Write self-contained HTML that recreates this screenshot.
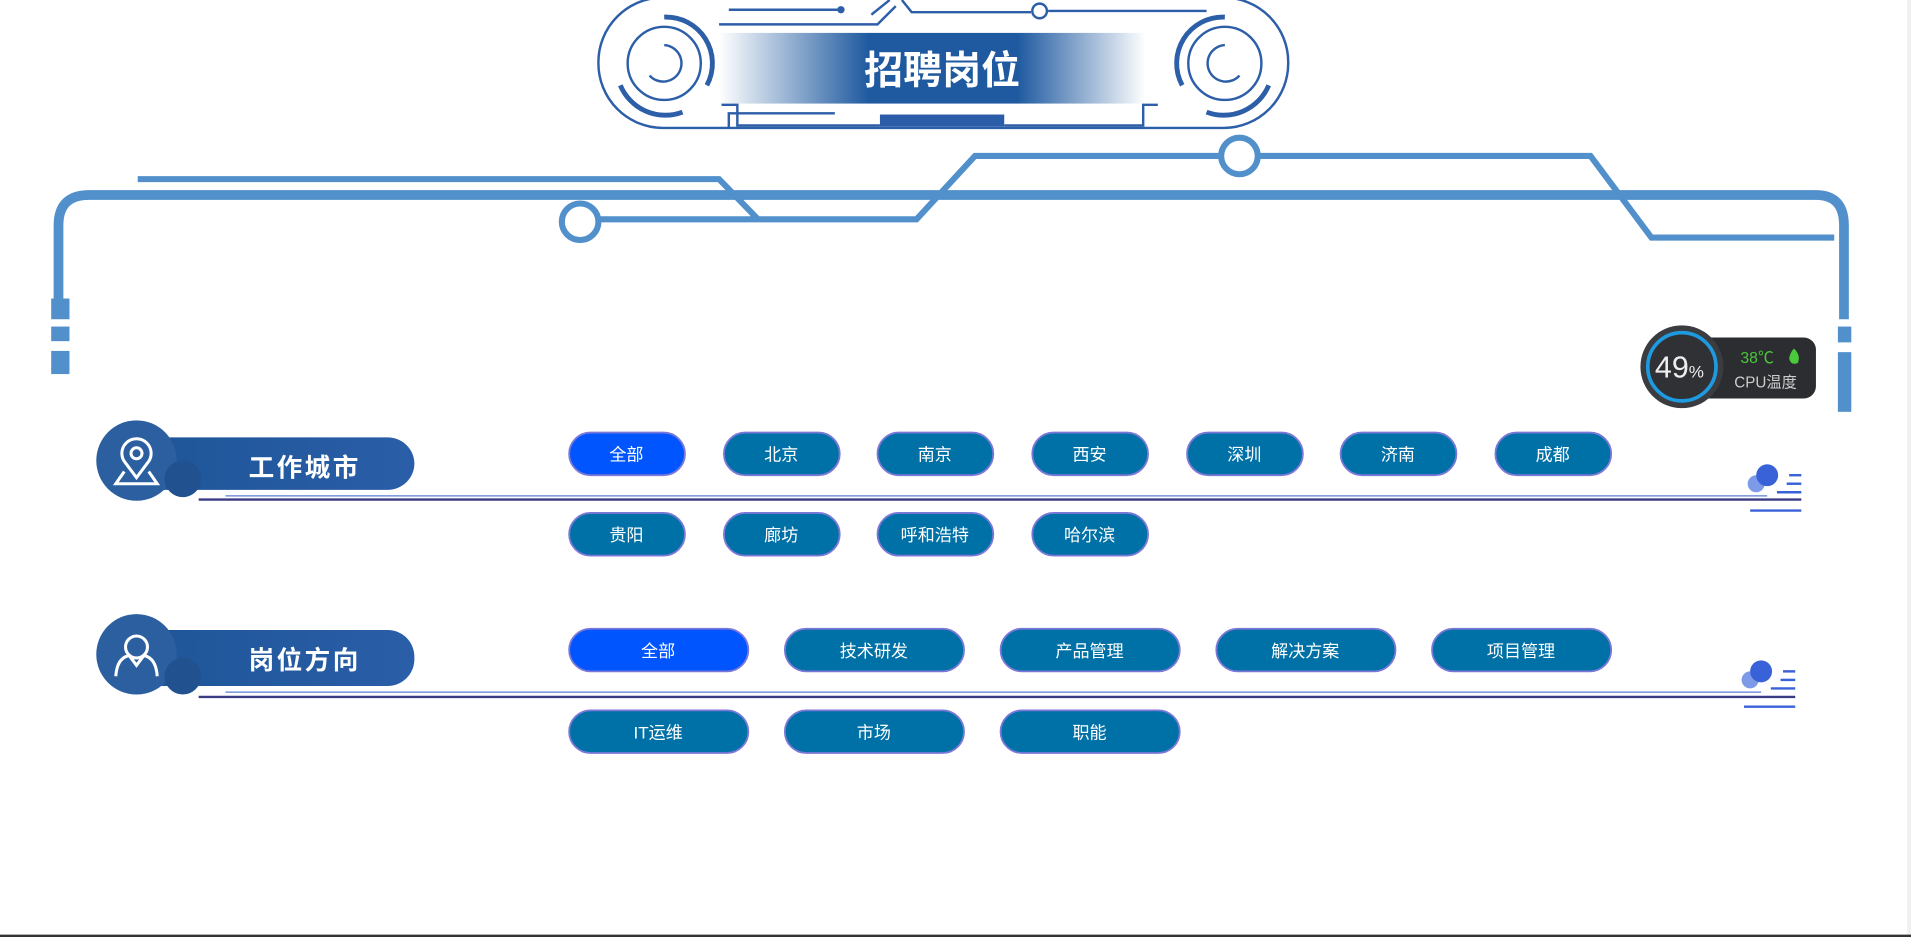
<!DOCTYPE html>
<html><head><meta charset="utf-8"><style>
html,body{margin:0;padding:0;background:#fff;width:1911px;height:937px;overflow:hidden}
svg{display:block}
text{font-family:"Liberation Sans","Noto Sans CJK SC",sans-serif}
</style></head><body>
<svg width="1911" height="937" viewBox="0 0 1568 769" preserveAspectRatio="none" xmlns="http://www.w3.org/2000/svg">
<defs>
<linearGradient id="tg" x1="0" x2="1" y1="0" y2="0">
<stop offset="0" stop-color="#1f5aa0" stop-opacity="0"/>
<stop offset="0.35" stop-color="#1f5aa0"/>
<stop offset="0.7" stop-color="#1f5aa0"/>
<stop offset="1" stop-color="#1f5aa0" stop-opacity="0"/>
</linearGradient>
<linearGradient id="pg" x1="0" x2="1">
<stop offset="0" stop-color="#1e5597"/><stop offset="1" stop-color="#2a5ea8"/>
</linearGradient>
</defs>
<rect x="1565" y="0" width="3" height="769" fill="#f0f0f0"/>
<line x1="0" y1="768" x2="1568" y2="768" stroke="#333" stroke-width="2"/>

<!-- header -->
<g fill="none" stroke="#2d5ea8" stroke-width="2">
<rect x="491" y="-2" width="566" height="107" rx="53"/>
<path d="M545,14 A38,38 0 0 1 580,70" stroke-width="4"/>
<path d="M509,70 A40,40 0 0 0 560,92" stroke-width="4"/>
<circle cx="545" cy="52" r="30"/>
<path d="M545,37 A15,15 0 1 1 533,62"/>
<path d="M1005,14 A38,38 0 0 0 970,70" stroke-width="4"/>
<path d="M1041,70 A40,40 0 0 1 990,92" stroke-width="4"/>
<circle cx="1005" cy="52" r="30"/>
<path d="M1005,37 A15,15 0 1 0 1017,62"/>
<path d="M598,8 L690,8 M715,12 L730,0 M740,0 L748,10 L846,10 M860,9 L990,9"/>
<path d="M590,20 L720,20 L735,5"/>
<path d="M598,105 L598,93 L685,93 M592,86 L605,86 L605,103 L722,103 M824,103 L938,103 L938,86 L950,86"/>
<circle cx="853" cy="9" r="6"/>
</g>
<circle cx="690" cy="8" r="3" fill="#2d5ea8"/>
<rect x="590" y="27" width="350" height="58" fill="url(#tg)"/>
<text x="773" y="69" text-anchor="middle" font-size="32" font-weight="bold" fill="#fff">招聘岗位</text>
<rect x="722" y="94" width="102" height="10" fill="#2a5ca8"/>

<!-- frame -->
<g fill="none" stroke="#5290cc">
<path d="M48,245 L48,185 Q48,160 73,160 L1490,160 Q1513,160 1513,185 L1513,262" stroke-width="8"/>
<path d="M113,147 L590,147 L622,180 M491,180 L752,180 L800,128 L1003,128 M1031,128 L1305,128 L1355,195 L1505,195" stroke-width="5"/>
<circle cx="476" cy="182" r="15" stroke-width="5"/>
<circle cx="1017" cy="128" r="15" stroke-width="5"/>
</g>
<g fill="#5290cc">
<rect x="42" y="245" width="15" height="17"/><rect x="42" y="268" width="15" height="12"/><rect x="42" y="288" width="15" height="19"/>
<rect x="1508" y="268" width="11" height="13"/><rect x="1508" y="289" width="11" height="49"/>
</g>

<!-- CPU widget -->
<rect x="1380" y="277" width="110" height="50" rx="10" fill="#2b2d30"/>
<circle cx="1380" cy="301" r="34" fill="#3a3c40"/>
<circle cx="1380" cy="301" r="28" fill="#2f3135" stroke="#1e9ae0" stroke-width="3"/>
<text x="1378" y="310" text-anchor="middle" font-size="25" fill="#eee" font-family="Liberation Serif,serif">49<tspan font-size="14">%</tspan></text>
<text x="1428" y="298" font-size="13" fill="#4cc83c">38℃</text>
<path d="M1472,286 q6,6 3,12 q-6,2 -7,-4 q1,-5 4,-8z" fill="#4cc83c"/>
<text x="1423" y="318" font-size="12.5" fill="#ccc">CPU温度</text>

<!-- section 1 -->
<rect x="112" y="359" width="228" height="43" rx="22" fill="url(#pg)"/>
<circle cx="112" cy="378" r="33" fill="#2b5fa0"/>
<circle cx="150" cy="393" r="15" fill="#21528f"/>
<g fill="none" stroke="#fff" stroke-width="2.5">
<path d="M112,392 L103,380 A12,12 0 1 1 121,380 Z"/><circle cx="112" cy="372" r="4.5"/>
<path d="M102,387 L95,397 L129,397 L122,387"/>
</g>
<text x="250" y="391" text-anchor="middle" font-size="21" font-weight="bold" fill="#fff" letter-spacing="2">工作城市</text>
<line x1="185" y1="407" x2="1450" y2="407" stroke="#5a7ed0" stroke-width="1"/>
<line x1="163" y1="410" x2="1478" y2="410" stroke="#3b3a85" stroke-width="2"/>
<circle cx="1441" cy="397" r="7" fill="#7c9ae8"/><circle cx="1450" cy="390" r="9" fill="#3a62d8"/>
<g stroke="#3a62d8" stroke-width="2"><line x1="1468" y1="390" x2="1478" y2="390"/><line x1="1466" y1="397" x2="1478" y2="397"/><line x1="1458" y1="404" x2="1478" y2="404"/><line x1="1436" y1="419" x2="1478" y2="419"/></g>

<g stroke="#7b78d8" stroke-width="1.5" font-size="14" text-anchor="middle">
<rect x="467" y="355" width="95" height="35" rx="17.5" fill="#0055ff"/>
<rect x="594" y="355" width="95" height="35" rx="17.5" fill="#0071a6"/>
<rect x="720" y="355" width="95" height="35" rx="17.5" fill="#0071a6"/>
<rect x="847" y="355" width="95" height="35" rx="17.5" fill="#0071a6"/>
<rect x="974" y="355" width="95" height="35" rx="17.5" fill="#0071a6"/>
<rect x="1100" y="355" width="95" height="35" rx="17.5" fill="#0071a6"/>
<rect x="1227" y="355" width="95" height="35" rx="17.5" fill="#0071a6"/>
<rect x="467" y="421" width="95" height="35" rx="17.5" fill="#0071a6"/>
<rect x="594" y="421" width="95" height="35" rx="17.5" fill="#0071a6"/>
<rect x="720" y="421" width="95" height="35" rx="17.5" fill="#0071a6"/>
<rect x="847" y="421" width="95" height="35" rx="17.5" fill="#0071a6"/>
</g>
<g fill="#fff" font-size="14" text-anchor="middle">
<text x="514" y="378">全部</text><text x="641" y="378">北京</text><text x="767" y="378">南京</text><text x="894" y="378">西安</text><text x="1021" y="378">深圳</text><text x="1147" y="378">济南</text><text x="1274" y="378">成都</text>
<text x="514" y="444">贵阳</text><text x="641" y="444">廊坊</text><text x="767" y="444">呼和浩特</text><text x="894" y="444">哈尔滨</text>
</g>

<!-- section 2 -->
<rect x="112" y="517" width="228" height="46" rx="22" fill="url(#pg)"/>
<circle cx="112" cy="537" r="33" fill="#2b5fa0"/>
<circle cx="150" cy="555" r="15" fill="#21528f"/>
<g fill="none" stroke="#fff" stroke-width="2.5">
<circle cx="112" cy="531" r="9"/>
<path d="M95,555 Q96,540 106,538 L112,546 L118,538 Q128,540 129,555"/>
</g>
<text x="250" y="549" text-anchor="middle" font-size="21" font-weight="bold" fill="#fff" letter-spacing="2">岗位方向</text>
<line x1="185" y1="568" x2="1445" y2="568" stroke="#5a7ed0" stroke-width="1"/>
<line x1="163" y1="572" x2="1473" y2="572" stroke="#3b3a85" stroke-width="2"/>
<circle cx="1436" cy="558" r="7" fill="#7c9ae8"/><circle cx="1445" cy="551" r="9" fill="#3a62d8"/>
<g stroke="#3a62d8" stroke-width="2"><line x1="1463" y1="551" x2="1473" y2="551"/><line x1="1461" y1="558" x2="1473" y2="558"/><line x1="1453" y1="565" x2="1473" y2="565"/><line x1="1431" y1="580" x2="1473" y2="580"/></g>

<g stroke="#7b78d8" stroke-width="1.5">
<rect x="467" y="516" width="147" height="35" rx="17.5" fill="#0055ff"/>
<rect x="644" y="516" width="147" height="35" rx="17.5" fill="#0071a6"/>
<rect x="821" y="516" width="147" height="35" rx="17.5" fill="#0071a6"/>
<rect x="998" y="516" width="147" height="35" rx="17.5" fill="#0071a6"/>
<rect x="1175" y="516" width="147" height="35" rx="17.5" fill="#0071a6"/>
<rect x="467" y="583" width="147" height="35" rx="17.5" fill="#0071a6"/>
<rect x="644" y="583" width="147" height="35" rx="17.5" fill="#0071a6"/>
<rect x="821" y="583" width="147" height="35" rx="17.5" fill="#0071a6"/>
</g>
<g fill="#fff" font-size="14" text-anchor="middle">
<text x="540" y="539">全部</text><text x="717" y="539">技术研发</text><text x="894" y="539">产品管理</text><text x="1071" y="539">解决方案</text><text x="1248" y="539">项目管理</text>
<text x="540" y="606">IT运维</text><text x="717" y="606">市场</text><text x="894" y="606">职能</text>
</g>
</svg>
</body></html>
